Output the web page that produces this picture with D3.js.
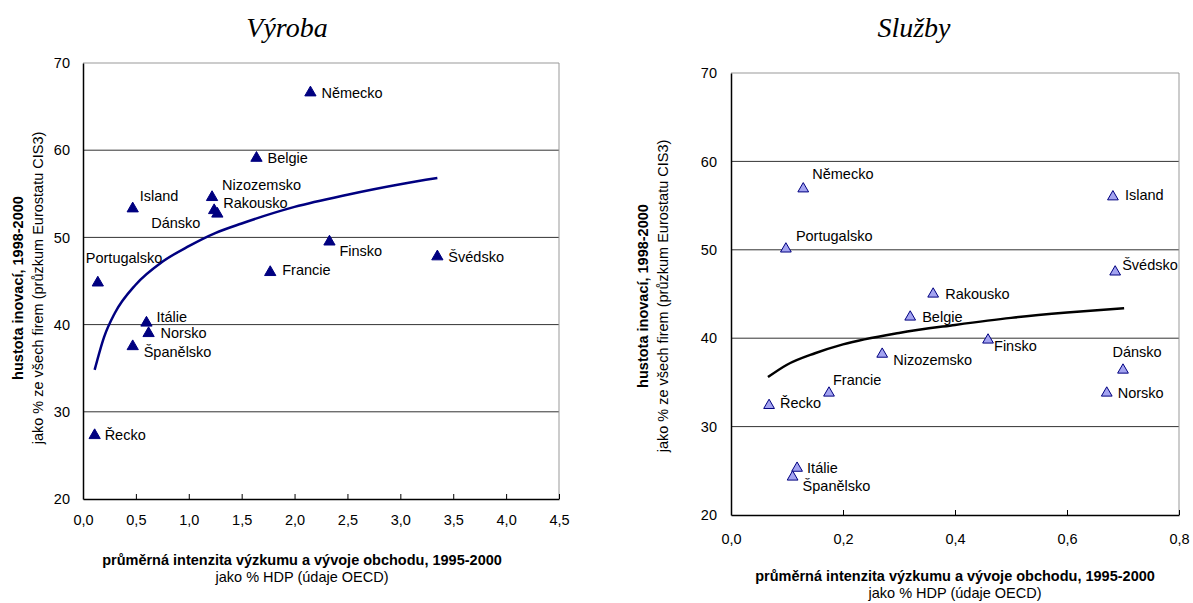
<!DOCTYPE html>
<html>
<head>
<meta charset="utf-8">
<script src="https://cdn.jsdelivr.net/npm/d3@7"></script>
<style>
  body { margin: 0; background: #fff; }
  text { font-family: "Liberation Sans", Arial, sans-serif; fill: #000; }
</style>
</head>
<body>
<div id="chart"></div>
<script>
// ---- data ----
const yTicks = [20, 30, 40, 50, 60, 70];

// Výroba (manufacturing)
const countriesVyroba = ["Německo", "Belgie", "Island", "Nizozemsko", "Rakousko", "Dánsko", "Portugalsko",
  "Francie", "Finsko", "Švédsko", "Itálie", "Norsko", "Španělsko", "Řecko"];
const rdVyroba = [2.15, 1.64, 0.47, 1.22, 1.24, 1.27, 0.14, 1.77, 2.33, 3.35, 0.6, 0.62, 0.47, 0.11];
const innovVyroba = [66.6, 59.1, 53.3, 54.6, 53.1, 52.7, 44.8, 46.0, 49.5, 47.8, 40.2, 39.0, 37.5, 27.3];
const trendVyrobaX = [0.11, 0.2, 0.3, 0.5, 0.75, 1.0, 1.25, 1.5, 2.0, 2.5, 3.0, 3.35];
const trendVyrobaY = [34.8, 38.6, 41.3, 44.6, 47.2, 49.0, 50.5, 51.6, 53.5, 54.9, 56.1, 56.8];
const xTicksVyroba = [0, 0.5, 1, 1.5, 2, 2.5, 3, 3.5, 4, 4.5];

// Služby (services)
const countriesSluzby = ["Německo", "Portugalsko", "Island", "Švédsko", "Rakousko", "Belgie", "Finsko",
  "Nizozemsko", "Dánsko", "Norsko", "Francie", "Řecko", "Itálie", "Španělsko"];
const rdSluzby = [0.129, 0.098, 0.682, 0.686, 0.361, 0.32, 0.459, 0.27, 0.70, 0.671, 0.175, 0.068, 0.118, 0.11];
const innovSluzby = [56.9, 50.1, 56.0, 47.5, 45.0, 42.4, 39.8, 38.2, 36.4, 33.8, 33.8, 32.4, 25.3, 24.3];
const trendSluzbyX = [0.066, 0.1, 0.15, 0.2, 0.3, 0.4, 0.5, 0.6, 0.702];
const trendSluzbyY = [35.6, 37.0, 38.3, 39.3, 40.6, 41.5, 42.3, 42.9, 43.4];
const xTicksSluzby = [0, 0.2, 0.4, 0.6, 0.8];

const yTitle = "hustota inovací, 1998-2000";
const ySub = "jako % ze všech firem (průzkum Eurostatu CIS3)";
const xTitle = "průměrná intenzita výzkumu a vývoje obchodu, 1995-2000";
const xSub = "jako % HDP (údaje OECD)";

// label placement next to each marker: [dx, dy, anchor]
const labelsVyroba = {
  "Německo": [11, 0], "Belgie": [11, 0], "Island": [7, -13], "Nizozemsko": [10, -12],
  "Rakousko": [9, -7], "Dánsko": [-17, 9, "end"], "Portugalsko": [-12, -25], "Francie": [12, -2],
  "Finsko": [10, 9], "Švédsko": [11, 0], "Itálie": [10, -6], "Norsko": [12, 0],
  "Španělsko": [11, 6], "Řecko": [10, 0]
};
const labelsSluzby = {
  "Německo": [9, -15], "Portugalsko": [10, -13], "Island": [12, -2], "Švédsko": [7, -7],
  "Rakousko": [12, 0], "Belgie": [12, 0], "Finsko": [6, 6], "Nizozemsko": [11, 6],
  "Dánsko": [14, -18, "middle"], "Norsko": [11, 0], "Francie": [4, -13], "Řecko": [11, -2],
  "Itálie": [10, 0], "Španělsko": [10, 9]
};

const comma = d => d3.format(".1f")(d).replace(".", ",");

const svg = d3.select("#chart").append("svg")
  .attr("width", 1193)
  .attr("height", 603);

function drawPanel(p) {
  const x = d3.scaleLinear().domain(p.xDomain).range([p.left, p.right]);
  const y = d3.scaleLinear().domain([20, 70]).range([p.bottom, p.top]);
  const g = svg.append("g");

  // horizontal gridlines
  g.selectAll("line.grid")
    .data(yTicks.slice(1))
    .join("line")
    .attr("class", "grid")
    .attr("x1", p.left).attr("x2", p.right)
    .attr("y1", d => y(d)).attr("y2", d => y(d))
    .attr("stroke", d => d === 70 ? "#999" : "#333")
    .attr("stroke-width", 1);

  // right border
  g.append("line")
    .attr("x1", p.right).attr("x2", p.right)
    .attr("y1", p.top).attr("y2", p.bottom)
    .attr("stroke", "#999");

  // x axis, ticks pointing inward
  g.append("g")
    .attr("transform", `translate(0,${p.bottom})`)
    .call(d3.axisBottom(x).tickValues(p.xTicks).tickFormat(comma)
      .tickSizeInner(-5).tickSizeOuter(0).tickPadding(p.xPad))
    .call(a => a.select(".domain").attr("stroke", "#000").attr("stroke-width", 1.5))
    .call(a => a.selectAll("text").attr("font-size", 14.5).attr("font-family", "Liberation Sans"));

  // y axis, no ticks
  g.append("g")
    .attr("transform", `translate(${p.left},0)`)
    .call(d3.axisLeft(y).tickValues(yTicks).tickSize(0).tickPadding(p.yPad))
    .call(a => a.select(".domain").attr("stroke", "#000").attr("stroke-width", 1.5))
    .call(a => a.selectAll("text").attr("font-size", 14.5).attr("font-family", "Liberation Sans"));

  // trend curve
  const line = d3.line()
    .x((d, i) => x(p.trendX[i]))
    .y(d => y(d))
    .curve(d3.curveMonotoneX);
  g.append("path")
    .attr("d", line(p.trendY))
    .attr("fill", "none")
    .attr("stroke", p.curveColor)
    .attr("stroke-width", 2.5);

  // markers
  const tri = d3.symbol().type(d3.symbolTriangle).size(p.markSize);
  g.selectAll("path.pt")
    .data(p.names)
    .join("path")
    .attr("class", "pt")
    .attr("d", tri)
    .attr("transform", (d, i) => `translate(${x(p.xs[i])},${y(p.ys[i])})`)
    .attr("fill", p.markFill)
    .attr("stroke", p.markStroke)
    .attr("stroke-width", 1);

  // country labels
  g.selectAll("text.lab")
    .data(p.names)
    .join("text")
    .attr("class", "lab")
    .attr("x", (d, i) => x(p.xs[i]) + p.labels[d][0])
    .attr("y", (d, i) => y(p.ys[i]) + p.labels[d][1])
    .attr("dy", "0.35em")
    .attr("text-anchor", d => p.labels[d][2] || "start")
    .attr("font-size", 14.5)
    .text(d => d);

  // title
  svg.append("text")
    .attr("x", p.titleX).attr("y", 37)
    .attr("text-anchor", "middle")
    .style("font-family", "'Liberation Serif', 'Times New Roman', serif")
    .style("font-style", "italic")
    .attr("font-size", 28)
    .text(p.title);

  // x axis titles
  svg.append("text")
    .attr("x", p.xTitleX).attr("y", p.xTitleY)
    .attr("text-anchor", "middle")
    .attr("font-size", 14.5).attr("font-weight", "bold")
    .text(xTitle);
  svg.append("text")
    .attr("x", p.xTitleX).attr("y", p.xTitleY + 17)
    .attr("text-anchor", "middle")
    .attr("font-size", 14.5)
    .text(xSub);

  // y axis titles (rotated)
  svg.append("text")
    .attr("transform", `translate(${p.yTitleX},${p.yTitleMid}) rotate(-90)`)
    .attr("text-anchor", "middle")
    .attr("font-size", 14.5).attr("font-weight", "bold")
    .text(yTitle);
  svg.append("text")
    .attr("transform", `translate(${p.yTitleX + 20},${p.yTitleMid}) rotate(-90)`)
    .attr("text-anchor", "middle")
    .attr("font-size", 14.5)
    .text(ySub);
}

drawPanel({
  title: "Výroba", titleX: 287,
  left: 83, right: 559, top: 63, bottom: 499,
  xDomain: [0, 4.5], xTicks: xTicksVyroba, xPad: 16, yPad: 13,
  names: countriesVyroba, xs: rdVyroba, ys: innovVyroba, labels: labelsVyroba,
  trendX: trendVyrobaX, trendY: trendVyrobaY,
  curveColor: "#000080", markFill: "#000080", markStroke: "#000080", markSize: 55,
  xTitleX: 302, xTitleY: 565,
  yTitleX: 23, yTitleMid: 288
});

drawPanel({
  title: "Služby", titleX: 914,
  left: 731, right: 1179, top: 73, bottom: 515,
  xDomain: [0, 0.8], xTicks: xTicksSluzby, xPad: 19, yPad: 14,
  names: countriesSluzby, xs: rdSluzby, ys: innovSluzby, labels: labelsSluzby,
  trendX: trendSluzbyX, trendY: trendSluzbyY,
  curveColor: "#000", markFill: "#a3a3f0", markStroke: "#000080", markSize: 50,
  xTitleX: 955, xTitleY: 581,
  yTitleX: 648, yTitleMid: 296
});
</script>
</body>
</html>
